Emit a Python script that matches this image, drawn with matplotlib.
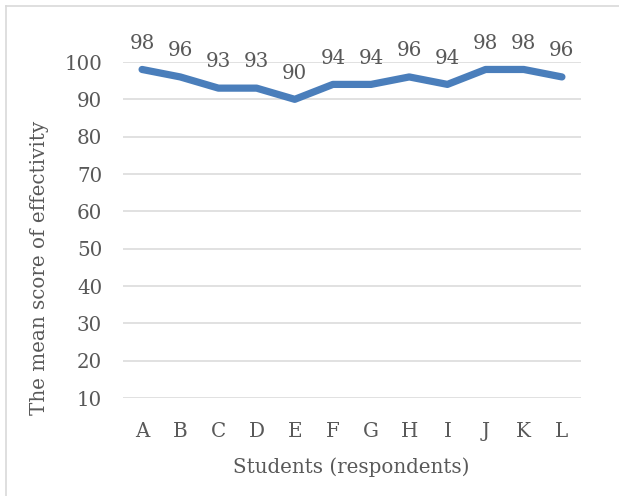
import matplotlib.pyplot as plt
from matplotlib.lines import Line2D

students = ["A", "B", "C", "D", "E", "F", "G", "H", "I", "J", "K", "L"]
mean_scores = [98, 96, 93, 93, 90, 94, 94, 96, 94, 98, 98, 96]
y_ticks = [10, 20, 30, 40, 50, 60, 70, 80, 90, 100]

text_col = "#595959"
grid_col = "#D9D9D9"
line_col = "#4A7EBB"
fs = 14.3

plt.rcParams["font.family"] = ["DejaVu Serif"]

fig = plt.figure(figsize=(6.19, 4.96), dpi=100)
ax = fig.add_axes([123 / 619, 1 - 398 / 496, (581 - 123) / 619, (398 - 62) / 496])

x = range(len(students))
ax.plot(x, mean_scores, color=line_col, linewidth=5.2,
        solid_capstyle="round", solid_joinstyle="round", clip_on=False, zorder=3)

# value labels above each point
for xi, v in zip(x, mean_scores):
    ax.annotate(str(v), (xi, v), xytext=(0, 12), textcoords="offset points",
                ha="center", va="bottom", fontsize=fs, color=text_col)

ax.set_xlim(-0.5, len(students) - 0.5)
ax.set_ylim(10, 100)
ax.set_yticks(y_ticks)
ax.set_xticks(list(x))
ax.set_xticklabels(students)
ax.grid(axis="y", color=grid_col, linewidth=1.1)
ax.set_axisbelow(True)
for s in ax.spines.values():
    s.set_visible(False)
ax.tick_params(axis="both", length=0, labelsize=fs, labelcolor=text_col)
ax.tick_params(axis="y", pad=15)
ax.tick_params(axis="x", pad=17)

fig.text(351 / 619, 1 - 467 / 496, "Students (respondents)", ha="center", va="center",
         fontsize=fs, color=text_col)
fig.text(40 / 619, 1 - 268 / 496, "The mean score of effectivity", ha="center", va="center",
         rotation=90, fontsize=fs, color=text_col)

# light frame around the chart area
fig.add_artist(Line2D([5.5 / 619, 5.5 / 619], [0, 1 - 5.5 / 496], transform=fig.transFigure,
                      color=grid_col, linewidth=1.2))
fig.add_artist(Line2D([5.5 / 619, 1], [1 - 5.5 / 496, 1 - 5.5 / 496], transform=fig.transFigure,
                      color=grid_col, linewidth=1.2))

fig.savefig("out.png", dpi=100)
